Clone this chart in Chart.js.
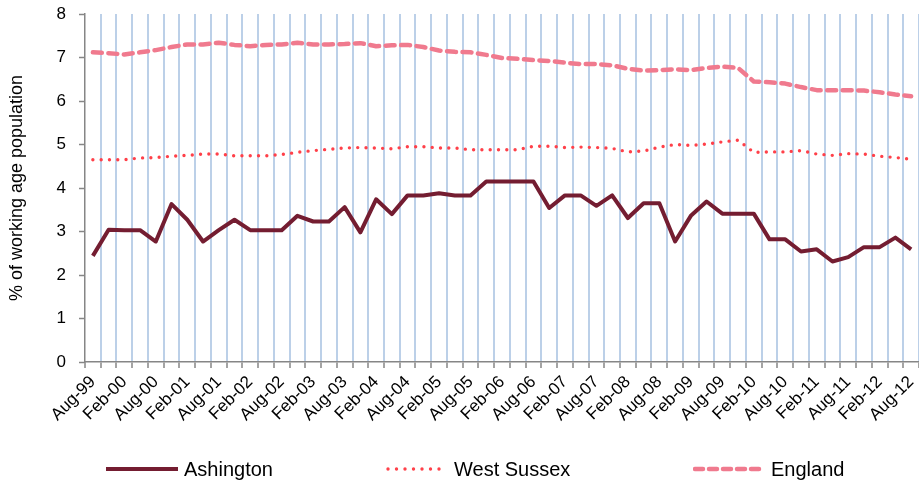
<!DOCTYPE html>
<html>
<head>
<meta charset="utf-8">
<script src="https://cdn.jsdelivr.net/npm/chart.js@4.4.1/dist/chart.umd.min.js"></script>
<style>
  html, body { margin: 0; padding: 0; background: #fff; }
  #wrap { position: relative; width: 919px; height: 486px; }
  #legend { position: absolute; left: 0; top: 0; width: 919px; height: 486px; pointer-events: none;
            font-family: 'Liberation Sans', Arial, sans-serif; font-size: 20px; color: #000; }
  .item { position: absolute; top: 457px; height: 24px; display: flex; align-items: center; }
  .item svg { margin-right: 6px; }
</style>
</head>
<body>
<div id="wrap">
  <canvas id="chart" width="919" height="486"></canvas>
  <div id="legend"></div>
</div>
<script>
// quarterly claimant figures, % of working age population
const periods = [
  'Aug-99', 'Nov-99', 'Feb-00', 'May-00', 'Aug-00', 'Nov-00', 'Feb-01', 'May-01',
  'Aug-01', 'Nov-01', 'Feb-02', 'May-02', 'Aug-02', 'Nov-02', 'Feb-03', 'May-03',
  'Aug-03', 'Nov-03', 'Feb-04', 'May-04', 'Aug-04', 'Nov-04', 'Feb-05', 'May-05',
  'Aug-05', 'Nov-05', 'Feb-06', 'May-06', 'Aug-06', 'Nov-06', 'Feb-07', 'May-07',
  'Aug-07', 'Nov-07', 'Feb-08', 'May-08', 'Aug-08', 'Nov-08', 'Feb-09', 'May-09',
  'Aug-09', 'Nov-09', 'Feb-10', 'May-10', 'Aug-10', 'Nov-10', 'Feb-11', 'May-11',
  'Aug-11', 'Nov-11', 'Feb-12', 'May-12', 'Aug-12'
];

const ashington = [
  2.44, 3.04, 3.03, 3.03, 2.77, 3.63, 3.27, 2.77, 3.03, 3.27, 3.03, 3.03, 3.03, 3.36,
  3.23, 3.23, 3.56, 2.98, 3.74, 3.40, 3.83, 3.83, 3.88, 3.83, 3.83, 4.15, 4.15, 4.15,
  4.15, 3.54, 3.83, 3.83, 3.59, 3.83, 3.31, 3.65, 3.65, 2.77, 3.36, 3.69, 3.41, 3.41,
  3.41, 2.82, 2.82, 2.54, 2.59, 2.31, 2.41, 2.64, 2.64, 2.86, 2.59
];

const westSussex = [
  4.65, 4.65, 4.65, 4.69, 4.70, 4.73, 4.75, 4.78, 4.78, 4.74, 4.74, 4.74, 4.77, 4.82,
  4.86, 4.89, 4.92, 4.93, 4.92, 4.90, 4.95, 4.95, 4.92, 4.92, 4.88, 4.88, 4.88, 4.88,
  4.96, 4.96, 4.93, 4.94, 4.93, 4.91, 4.83, 4.85, 4.94, 5.00, 4.98, 5.01, 5.06, 5.10,
  4.82, 4.83, 4.83, 4.86, 4.78, 4.75, 4.79, 4.78, 4.73, 4.70, 4.66
];

const england = [
  7.12, 7.10, 7.07, 7.12, 7.17, 7.24, 7.30, 7.30, 7.34, 7.29, 7.26, 7.29, 7.30, 7.34,
  7.30, 7.30, 7.31, 7.33, 7.26, 7.28, 7.29, 7.24, 7.16, 7.13, 7.12, 7.06, 6.99, 6.97,
  6.94, 6.92, 6.88, 6.85, 6.85, 6.82, 6.74, 6.70, 6.71, 6.73, 6.71, 6.76, 6.79, 6.76,
  6.45, 6.43, 6.40, 6.32, 6.25, 6.25, 6.25, 6.24, 6.20, 6.15, 6.11
];

const yTicks = [0, 1, 2, 3, 4, 5, 6, 7, 8];

const axisGrey = '#868686';
const gridBlue = '#bcd0e8';

Chart.defaults.font.family = "'Liberation Sans', Arial, sans-serif";
Chart.defaults.color = '#000';

const series = [
  { label: 'Ashington', data: ashington, color: '#741d31', width: 4, dash: [], legendDash: '' },
  { label: 'West Sussex', data: westSussex, color: '#ff4049', width: 3.4, dash: [0, 8.3], legendDash: '0 8.5' },
  { label: 'England', data: england, color: '#f07a8e', width: 4.5, dash: [9, 6.5], legendDash: '8 6' }
];

const ctx = document.getElementById('chart').getContext('2d');
const chart = new Chart(ctx, {
  type: 'line',
  data: {
    labels: periods,
    datasets: series.map(s => ({
      label: s.label,
      data: s.data,
      borderColor: s.color,
      backgroundColor: s.color,
      borderWidth: s.width,
      borderDash: s.dash,
      borderCapStyle: s.dash.length ? 'round' : 'butt',
      borderJoinStyle: 'round',
      tension: 0,
      pointRadius: 0,
      fill: false
    }))
  },
  options: {
    responsive: false,
    devicePixelRatio: 1,
    animation: false,
    layout: { padding: { top: 14, left: 0, right: 0, bottom: 40 } },
    plugins: {
      legend: { display: false },
      tooltip: { enabled: false }
    },
    scales: {
      x: {
        type: 'category',
        offset: true,
        afterFit: scale => {
          scale.height = 84;
          scale.paddingRight = 0;
        },
        grid: {
          offset: true,
          color: c => (c.index === 0 ? 'rgba(0,0,0,0)' : gridBlue),
          lineWidth: 2,
          drawTicks: true,
          tickLength: 6,
          tickColor: axisGrey,
          tickWidth: 1.5
        },
        border: { color: axisGrey, width: 1.5 },
        ticks: {
          autoSkip: false,
          maxRotation: 45,
          minRotation: 45,
          padding: 4,
          font: { size: 17 },
          color: '#000',
          callback: function (value, index) {
            return index % 2 === 0 ? this.getLabelForValue(value) : '';
          }
        }
      },
      y: {
        min: 0,
        max: 8,
        afterFit: scale => {
          scale.width = 85;
          scale.paddingTop = 0;
        },
        afterBuildTicks: scale => { scale.ticks = yTicks.map(v => ({ value: v })); },
        grid: {
          drawOnChartArea: false,
          drawTicks: true,
          tickLength: 6,
          tickColor: axisGrey,
          tickWidth: 1.5
        },
        border: { color: axisGrey, width: 1.5 },
        ticks: { padding: 13, font: { size: 17 }, color: '#000' },
        title: {
          display: true,
          text: '% of working age population',
          font: { size: 18 },
          color: '#000',
          padding: { top: 6, bottom: 0 }
        }
      }
    }
  }
});

// legend below the plot, built from the same series definitions
const legendLeft = [106, 386, 693];
const legend = document.getElementById('legend');
series.forEach((s, i) => {
  const item = document.createElement('div');
  item.className = 'item';
  item.style.left = legendLeft[i] + 'px';
  const w = i === 1 ? 62 : 72;
  const cap = s.legendDash ? 'round' : 'butt';
  const x0 = s.legendDash ? 2 : 0;
  const x1 = s.legendDash ? w - 2 : w;
  item.innerHTML =
    `<svg width="${w}" height="10"><line x1="${x0}" y1="5" x2="${x1}" y2="5" stroke="${s.color}" ` +
    `stroke-width="${s.width}" stroke-linecap="${cap}" stroke-dasharray="${s.legendDash}"/></svg>` +
    `<span>${s.label}</span>`;
  legend.appendChild(item);
});
</script>
</body>
</html>
